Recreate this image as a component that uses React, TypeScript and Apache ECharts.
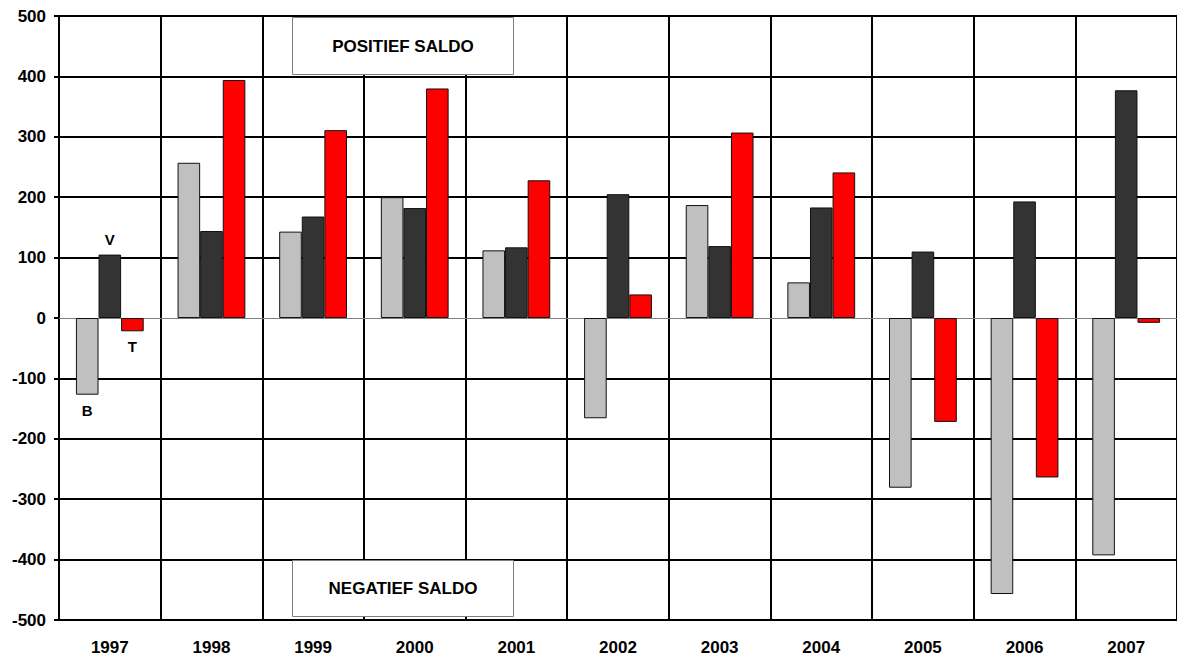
import React, { useEffect, useRef } from "react";
import * as echarts from "echarts";

const years = ["1997", "1998", "1999", "2000", "2001", "2002", "2003", "2004", "2005", "2006", "2007"];
const seriesB = [-127, 257, 143, 200, 112, -166, 187, 59, -281, -457, -393];
const seriesV = [105, 144, 168, 182, 117, 205, 119, 183, 110, 193, 377];
const seriesT = [-22, 394, 311, 380, 228, 39, 307, 241, -172, -264, -8];
const seriesNames = ["B", "V", "T"];
const seriesColors = ["#C0C0C0", "#333333", "#FF0000"];
const yMin = -500;
const yMax = 500;
const yInterval = 100;

const FONT = "'Liberation Sans', Arial, sans-serif";

export default function App() {
  const ref = useRef<HTMLDivElement>(null);

  useEffect(() => {
    if (!ref.current) return;
    const chart = echarts.init(ref.current, null, { renderer: "svg" });
    const all = [seriesB, seriesV, seriesT];
    const splitColors: string[] = [];
    for (let v = yMin; v <= yMax; v += yInterval) {
      splitColors.push(v === 0 ? "rgba(0,0,0,0)" : "#000000");
    }
    const series = all.map((arr, si) => ({
      name: seriesNames[si],
      type: "bar",
      barGap: "0%",
      barCategoryGap: "33.3%",
      itemStyle: { color: seriesColors[si], borderColor: "#111111", borderWidth: 1 },
      data: arr.map((v, i) =>
        i === 0
          ? {
              value: v,
              label: {
                show: true,
                position: v >= 0 ? "top" : "bottom",
                distance: 8,
                formatter: seriesNames[si],
                fontFamily: FONT,
                fontWeight: "bold",
                fontSize: 15,
                color: "#000",
              },
            }
          : v
      ),
    }));

    chart.setOption({
      animation: false,
      backgroundColor: "#ffffff",
      grid: { left: 59, right: -4, top: 16, bottom: 37, containLabel: false },
      xAxis: {
        type: "category",
        data: years,
        axisLine: { show: true, onZero: true, lineStyle: { color: "#808080", width: 1 } },
        axisTick: { show: false },
        splitLine: { show: true, lineStyle: { color: "#000", width: 2 } },
        axisLabel: {
          color: "#000",
          fontFamily: FONT,
          fontWeight: "bold",
          fontSize: 17,
          margin: 19,
          interval: 0,
        },
      },
      yAxis: {
        type: "value",
        min: yMin,
        max: yMax,
        interval: yInterval,
        axisLine: { show: true, lineStyle: { color: "#000", width: 2 } },
        axisTick: { show: true, length: 5, lineStyle: { color: "#000", width: 2 } },
        splitLine: { show: true, lineStyle: { color: splitColors, width: 2 } },
        axisLabel: {
          color: "#000",
          fontFamily: FONT,
          fontWeight: "bold",
          fontSize: 17,
          margin: 13,
        },
      },
      graphic: [
        {
          type: "rect",
          z: 100,
          shape: { x: 292.5, y: 17.5, width: 221, height: 57 },
          style: { fill: "#fff", stroke: "#808080", lineWidth: 1 },
        },
        {
          type: "text",
          z: 101,
          x: 403,
          y: 46,
          style: {
            text: "POSITIEF SALDO",
            fill: "#000",
            font: `bold 17px ${FONT}`,
            align: "center",
            verticalAlign: "middle",
          },
        },
        {
          type: "rect",
          z: 100,
          shape: { x: 292.5, y: 560.5, width: 221, height: 56 },
          style: { fill: "#fff", stroke: "#808080", lineWidth: 1 },
        },
        {
          type: "text",
          z: 101,
          x: 403,
          y: 588,
          style: {
            text: "NEGATIEF SALDO",
            fill: "#000",
            font: `bold 17px ${FONT}`,
            align: "center",
            verticalAlign: "middle",
          },
        },
      ],
      series,
    });
    return () => chart.dispose();
  }, []);

  return (
    <div
      ref={ref}
      style={{ position: "absolute", left: 0, top: 0, width: 1177, height: 657 }}
    />
  );
}
